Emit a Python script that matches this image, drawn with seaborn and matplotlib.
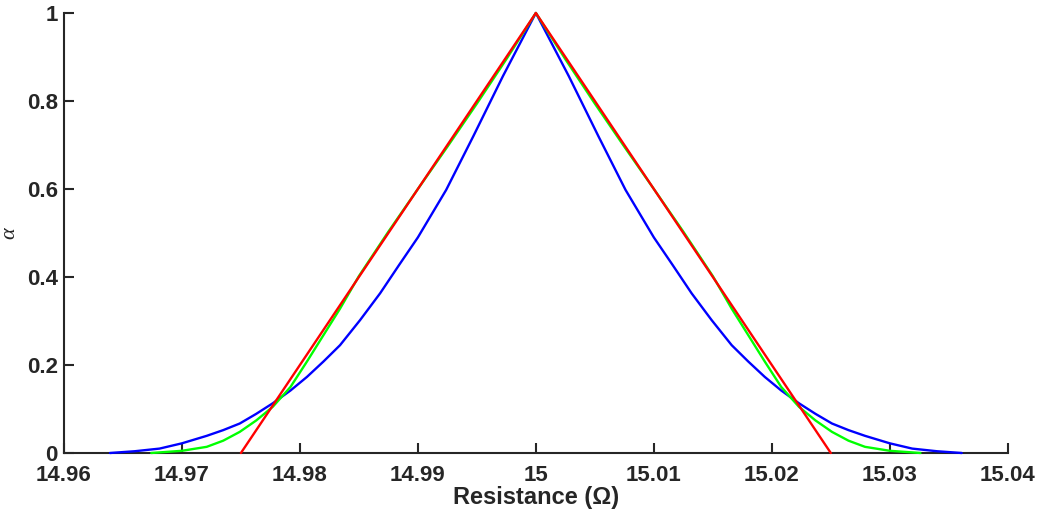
import matplotlib
matplotlib.use("Agg")
import matplotlib.pyplot as plt
import seaborn as sns

# membership curves
blue_x = [14.9639, 14.9660, 14.9681, 14.9700, 14.9721, 14.9735, 14.9749, 14.9763,
          14.9777, 14.9792, 14.9806, 14.9820, 14.9834, 14.9851, 14.9868, 14.9884,
          14.9900, 14.9924, 14.9947, 14.9972, 15.0000,
          15.0028, 15.0053, 15.0076, 15.0100, 15.0116, 15.0132, 15.0149, 15.0166,
          15.0180, 15.0194, 15.0208, 15.0223, 15.0237, 15.0251, 15.0265, 15.0279,
          15.0300, 15.0319, 15.0340, 15.0361]
blue_y = [0.000, 0.004, 0.010, 0.022, 0.039, 0.052, 0.067, 0.089,
          0.113, 0.142, 0.173, 0.208, 0.245, 0.302, 0.363, 0.427,
          0.490, 0.598, 0.720, 0.856, 1.000,
          0.856, 0.720, 0.598, 0.490, 0.427, 0.363, 0.302, 0.245,
          0.208, 0.173, 0.142, 0.113, 0.089, 0.067, 0.052, 0.039,
          0.022, 0.010, 0.004, 0.000]

green_x = [14.9674, 14.9700, 14.9721, 14.9735, 14.9749, 14.9763, 14.9777, 14.9792,
           14.9806, 14.9820, 14.9834, 14.9850, 14.9875, 14.9900, 14.9925, 14.9950,
           14.9975, 15.0000,
           15.0025, 15.0050, 15.0075, 15.0100, 15.0125, 15.0150, 15.0166, 15.0180,
           15.0194, 15.0208, 15.0223, 15.0237, 15.0251, 15.0265, 15.0279, 15.0300,
           15.0326]
green_y = [0.000, 0.005, 0.014, 0.028, 0.048, 0.074, 0.105, 0.150,
           0.208, 0.268, 0.328, 0.402, 0.503, 0.600, 0.696, 0.794,
           0.895, 1.000,
           0.895, 0.794, 0.696, 0.600, 0.503, 0.402, 0.328, 0.268,
           0.208, 0.150, 0.105, 0.074, 0.048, 0.028, 0.014, 0.005,
           0.000]

red_x = [14.975, 15.000, 15.025]
red_y = [0.0, 1.0, 0.0]

x_ticks = [14.96, 14.97, 14.98, 14.99, 15.00, 15.01, 15.02, 15.03, 15.04]
x_labels = ["14.96", "14.97", "14.98", "14.99", "15", "15.01", "15.02", "15.03", "15.04"]
y_ticks = [0, 0.2, 0.4, 0.6, 0.8, 1.0]
y_labels = ["0", "0.2", "0.4", "0.6", "0.8", "1"]

sns.set_style("ticks")
plt.rcParams["font.family"] = ["Liberation Sans", "DejaVu Sans"]
dark = "#262626"

fig = plt.figure(figsize=(10.4, 5.17), dpi=100)
ax = fig.add_axes([0.0615, 0.1238, 0.9075, 0.8511])

for xs, ys, col in [(blue_x, blue_y, "#0000ff"), (green_x, green_y, "#00ff00"),
                    (red_x, red_y, "#ff0000")]:
    sns.lineplot(x=xs, y=ys, color=col, linewidth=1.7, sort=False,
                 estimator=None, ax=ax, clip_on=False)

ax.set_xlim(14.96, 15.04)
ax.set_ylim(0, 1)
ax.set_xticks(x_ticks)
ax.set_xticklabels(x_labels)
ax.set_yticks(y_ticks)
ax.set_yticklabels(y_labels)
ax.tick_params(direction="in", length=7, width=1.5, colors=dark, labelsize=16)
ax.tick_params(axis="x", pad=9)
ax.tick_params(axis="y", pad=4.5)
for lbl in ax.get_xticklabels() + ax.get_yticklabels():
    lbl.set_fontweight("bold")

for side in ["top", "right"]:
    ax.spines[side].set_visible(False)
for side in ["left", "bottom"]:
    ax.spines[side].set_linewidth(1.5)
    ax.spines[side].set_color(dark)
    ax.spines[side].set_zorder(1)

ax.set_xlabel("Resistance (Ω)", fontsize=17, fontweight="bold", color=dark)
ax.xaxis.set_label_coords(0.5, -0.075)
ax.set_ylabel("α", fontsize=16, color=dark, family="Liberation Serif",
              style="italic")
ax.yaxis.set_label_coords(-0.047, 0.5)

fig.savefig("out.png", dpi=100)
